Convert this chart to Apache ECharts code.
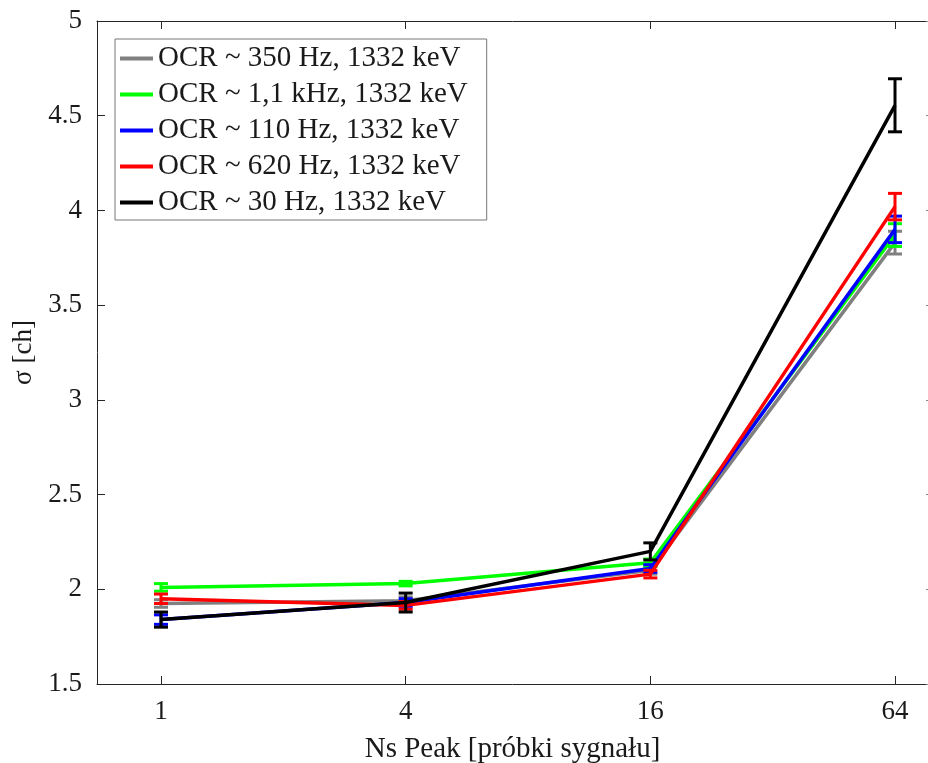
<!DOCTYPE html>
<html>
<head>
<meta charset="utf-8">
<script src="https://cdn.jsdelivr.net/npm/echarts@6/dist/echarts.min.js"></script>
<style>
html,body{margin:0;padding:0;background:#fff;}
#chart{width:928px;height:763px;}
</style>
</head>
<body>
<div id="chart"></div>
<script>
// ---- data ----
const categories = [1, 4, 16, 64];
const seriesNames = [
  'OCR ~ 350 Hz, 1332 keV',
  'OCR ~ 1,1 kHz, 1332 keV',
  'OCR ~ 110 Hz, 1332 keV',
  'OCR ~ 620 Hz, 1332 keV',
  'OCR ~ 30 Hz, 1332 keV'
];
const seriesColors = ['#808080', '#00ff00', '#0000ff', '#ff0000', '#000000'];
const gray350 = [1.925, 1.94, 2.10, 3.83];
const green1100 = [2.01, 2.03, 2.14, 3.87];
const blue110 = [1.84, 1.93, 2.11, 3.90];
const red620 = [1.95, 1.915, 2.08, 4.02];
const black30 = [1.84, 1.93, 2.20, 4.555];
const gray350Err = [0.02, 0.02, 0.02, 0.06];
const green1100Err = [0.02, 0.012, 0.02, 0.06];
const blue110Err = [0.025, 0.02, 0.02, 0.07];
const red620Err = [0.025, 0.02, 0.02, 0.07];
const black30Err = [0.04, 0.05, 0.045, 0.14];
const yTicks = [1.5, 2, 2.5, 3, 3.5, 4, 4.5, 5];

const values = [gray350, green1100, blue110, red620, black30];
const errors = [gray350Err, green1100Err, blue110Err, red620Err, black30Err];

const xPos = categories.map(c => Math.log2(c));
const xMin = -0.5232, xMax = 6.2697;
const font = '"Liberation Serif", "Times New Roman", serif';
const txt = '#1a1a1a';
const axisCol = '#262626';

const series = [];
values.forEach((vals, i) => {
  series.push({
    name: seriesNames[i],
    type: 'line',
    data: vals.map((v, k) => [xPos[k], v]),
    showSymbol: false,
    symbol: 'none',
    lineStyle: { color: seriesColors[i], width: 3.5 },
    itemStyle: { color: seriesColors[i] },
    z: 2 + i * 2
  });
  series.push({
    name: seriesNames[i] + ' err',
    type: 'custom',
    data: vals.map((v, k) => [xPos[k], v - errors[i][k], v + errors[i][k]]),
    z: 3 + i * 2,
    renderItem: function (params, api) {
      const x = api.value(0);
      const lo = api.coord([x, api.value(1)]);
      const hi = api.coord([x, api.value(2)]);
      const hw = 7;
      const st = { stroke: seriesColors[i], lineWidth: 3, fill: null };
      return {
        type: 'group',
        children: [
          { type: 'line', shape: { x1: lo[0], y1: lo[1], x2: hi[0], y2: hi[1] }, style: st },
          { type: 'line', shape: { x1: lo[0] - hw, y1: lo[1], x2: lo[0] + hw, y2: lo[1] }, style: st },
          { type: 'line', shape: { x1: hi[0] - hw, y1: hi[1], x2: hi[0] + hw, y2: hi[1] }, style: st }
        ]
      };
    }
  });
});

const chart = echarts.init(document.getElementById('chart'), null, { renderer: 'canvas' });
chart.setOption({
  animation: false,
  backgroundColor: '#fff',
  grid: { left: 97, top: 21, right: 0, bottom: 79, containLabel: false, outerBoundsMode: 'none' },
  legend: {
    data: seriesNames.map((n, i) => ({ name: n, itemStyle: { color: seriesColors[i] } })),
    orient: 'vertical',
    left: 115,
    top: 39,
    itemWidth: 33,
    itemHeight: 4,
    itemGap: 7,
    icon: 'rect',
    padding: [5, 19, 3, 5],
    borderColor: '#777',
    borderWidth: 1,
    backgroundColor: '#fff',
    textStyle: { fontFamily: font, fontSize: 29, color: txt, lineHeight: 29 },
    selectedMode: false
  },
  xAxis: [{
    type: 'value',
    min: xMin,
    max: xMax,
    position: 'bottom',
    name: 'Ns Peak [próbki sygnału]',
    nameLocation: 'middle',
    nameGap: 51,
    nameTextStyle: { fontFamily: font, fontSize: 29, color: txt },
    axisLine: { show: true, onZero: false, lineStyle: { color: axisCol, width: 1 } },
    axisTick: { show: true, inside: true, length: 8, customValues: xPos, lineStyle: { color: axisCol } },
    axisLabel: {
      customValues: xPos,
      margin: 14,
      fontFamily: font, fontSize: 27, color: txt,
      formatter: v => { const k = xPos.findIndex(p => Math.abs(p - v) < 1e-6); return k >= 0 ? String(categories[k]) : ''; }
    },
    splitLine: { show: false }
  }, {
    type: 'value',
    min: xMin,
    max: xMax,
    position: 'top',
    axisLine: { show: true, onZero: false, lineStyle: { color: axisCol, width: 1 } },
    axisTick: { show: true, inside: true, length: 8, customValues: xPos, lineStyle: { color: axisCol } },
    axisLabel: { show: false },
    splitLine: { show: false }
  }],
  yAxis: [{
    type: 'value',
    min: 1.5,
    max: 5,
    interval: 0.5,
    position: 'left',
    name: 'σ [ch]',
    nameLocation: 'middle',
    nameGap: 60,
    nameTextStyle: { fontFamily: font, fontSize: 27, color: txt },
    axisLine: { show: true, onZero: false, lineStyle: { color: axisCol, width: 1 } },
    axisTick: { show: true, inside: true, length: 8, customValues: yTicks, lineStyle: { color: axisCol } },
    axisLabel: { customValues: yTicks, margin: 15, fontFamily: font, fontSize: 27, color: txt },
    splitLine: { show: false }
  }, {
    type: 'value',
    min: 1.5,
    max: 5,
    interval: 0.5,
    position: 'right',
    axisLine: { show: false, onZero: false },
    axisTick: { show: true, inside: true, length: 2, lineStyle: { color: '#888' } },
    axisLabel: { show: false },
    splitLine: { show: false }
  }],
  series: series
});
</script>
</body>
</html>
